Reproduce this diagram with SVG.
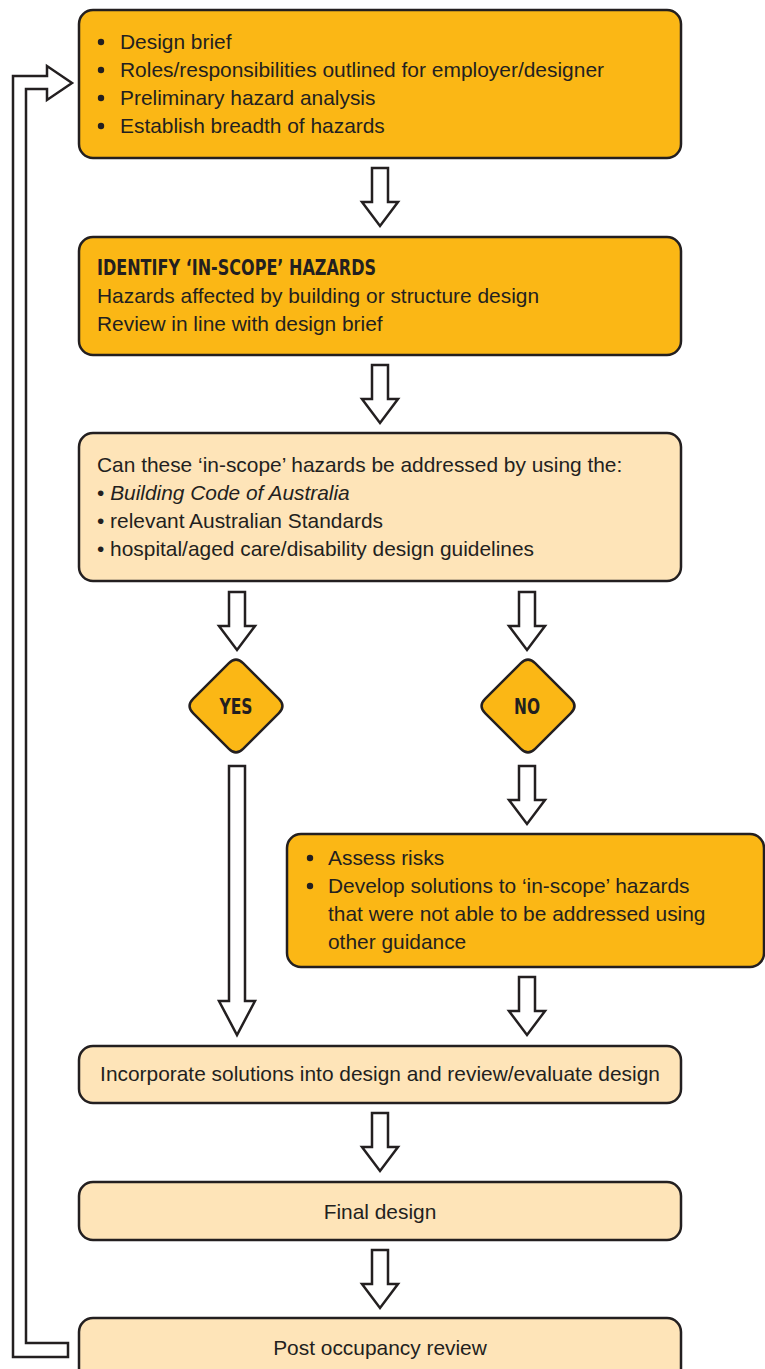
<svg xmlns="http://www.w3.org/2000/svg" width="765" height="1369" viewBox="0 0 765 1369">
<style>
.box{stroke:#231f20;stroke-width:2.5}
.dark{fill:#fbb715}
.light{fill:#fee4b8}
.t{font-family:"Liberation Sans",Arial,sans-serif;font-size:20.9px;fill:#231f20}
.b{font-family:"DejaVu Sans Condensed","DejaVu Sans",sans-serif;font-weight:bold;font-size:21px;fill:#231f20}
.arr{fill:#fff;stroke:#231f20;stroke-width:2.5;stroke-linejoin:miter}
</style>
<defs>
<path id="dn" d="M-8,0 H8 V34 H18 L0,58 L-18,34 H-8 Z"/>
</defs>
<g id="connectors">
<use href="#dn" class="arr" x="380" y="168"/>
<use href="#dn" class="arr" x="380" y="365"/>
<use href="#dn" class="arr" x="237" y="592"/>
<use href="#dn" class="arr" x="527" y="592"/>
<use href="#dn" class="arr" x="527" y="766"/>
<path class="arr" d="M229,766 H245 V1001 H255 L237,1035 L219,1001 H229 Z"/>
<use href="#dn" class="arr" x="527" y="977"/>
<use href="#dn" class="arr" x="380" y="1113"/>
<use href="#dn" class="arr" x="380" y="1250"/>
<path class="arr" d="M68,1343 L26,1343 L26,89 L47,89 L47,100 L72,83 L47,66 L47,76 L13,76 L13,1357 L68,1357 Z"/>
</g>
<g id="n1">
<rect class="box dark" x="79" y="10" width="602" height="148" rx="14"/>
<circle cx="101" cy="42" r="3.2" fill="#231f20"/>
<circle cx="101" cy="70" r="3.2" fill="#231f20"/>
<circle cx="101" cy="98" r="3.2" fill="#231f20"/>
<circle cx="101" cy="126" r="3.2" fill="#231f20"/>
<text class="t" x="120" y="49">Design brief</text>
<text class="t" x="120" y="77" textLength="484" lengthAdjust="spacingAndGlyphs">Roles/responsibilities outlined for employer/designer</text>
<text class="t" x="120" y="105">Preliminary hazard analysis</text>
<text class="t" x="120" y="133">Establish breadth of hazards</text>
</g>
<g id="n2">
<rect class="box dark" x="79" y="237" width="602" height="118" rx="14"/>
<text class="b" x="97" y="275" textLength="279" lengthAdjust="spacingAndGlyphs">IDENTIFY ‘IN-SCOPE’ HAZARDS</text>
<text class="t" x="97" y="303">Hazards affected by building or structure design</text>
<text class="t" x="97" y="331">Review in line with design brief</text>
</g>
<g id="n3">
<rect class="box light" x="79" y="433" width="602" height="148" rx="14"/>
<text class="t" x="97" y="472">Can these ‘in-scope’ hazards be addressed by using the:</text>
<text class="t" x="97" y="500">• <tspan font-style="italic">Building Code of Australia</tspan></text>
<text class="t" x="97" y="528">• relevant Australian Standards</text>
<text class="t" x="97" y="556">• hospital/aged care/disability design guidelines</text>
</g>
<g id="yes">
<path class="box dark" d="M228.9,663.1 Q236,656 243.1,663.1 L278.9,698.9 Q286,706 278.9,713.1 L243.1,748.9 Q236,756 228.9,748.9 L193.1,713.1 Q186,706 193.1,698.9 Z"/>
<text class="b" x="236" y="714" text-anchor="middle" font-size="22" textLength="33" lengthAdjust="spacingAndGlyphs">YES</text>
</g>
<g id="no">
<path class="box dark" d="M520.9,663.1 Q528,656 535.1,663.1 L570.9,698.9 Q578,706 570.9,713.1 L535.1,748.9 Q528,756 520.9,748.9 L485.1,713.1 Q478,706 485.1,698.9 Z"/>
<text class="b" x="527" y="714" text-anchor="middle" font-size="22" textLength="26" lengthAdjust="spacingAndGlyphs">NO</text>
</g>
<g id="n4">
<rect class="box dark" x="287" y="834" width="477" height="133" rx="14"/>
<circle cx="310" cy="858" r="3.2" fill="#231f20"/>
<circle cx="310" cy="886" r="3.2" fill="#231f20"/>
<text class="t" x="328" y="865">Assess risks</text>
<text class="t" x="328" y="893">Develop solutions to ‘in-scope’ hazards</text>
<text class="t" x="328" y="921">that were not able to be addressed using</text>
<text class="t" x="328" y="949">other guidance</text>
</g>
<g id="n5">
<rect class="box light" x="79" y="1046" width="602" height="57" rx="14"/>
<text class="t" x="380" y="1081" text-anchor="middle">Incorporate solutions into design and review/evaluate design</text>
</g>
<g id="n6">
<rect class="box light" x="79" y="1182" width="602" height="58" rx="14"/>
<text class="t" x="380" y="1219" text-anchor="middle">Final design</text>
</g>
<g id="n7">
<rect class="box light" x="79" y="1318" width="602" height="70" rx="14"/>
<text class="t" x="380" y="1355" text-anchor="middle">Post occupancy review</text>
</g>
</svg>
